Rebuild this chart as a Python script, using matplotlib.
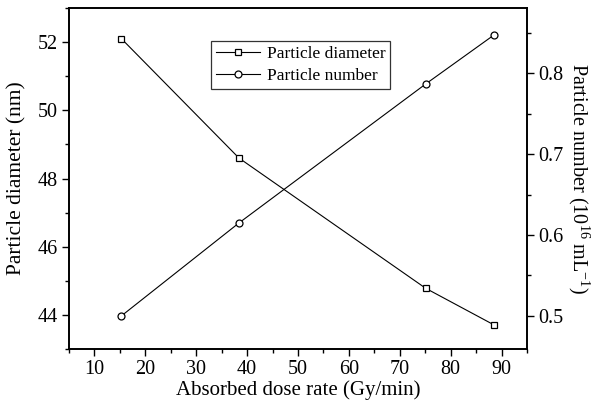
import numpy as np
import matplotlib.pyplot as plt
from matplotlib.ticker import MultipleLocator

plt.rcParams['font.family'] = ['Liberation Serif', 'DejaVu Serif']
plt.rcParams['mathtext.fontset'] = 'custom'
plt.rcParams['mathtext.rm'] = 'Liberation Serif'
plt.rcParams['mathtext.it'] = 'Liberation Serif:italic'

# data
dose_rate = [15.3, 38.4, 75.1, 88.6]
diameter = [52.1, 48.6, 44.78, 43.7]
number = [0.500, 0.615, 0.787, 0.848]

fig = plt.figure(figsize=(5.99, 4.04), dpi=100)
ax = fig.add_axes([0.1152, 0.1361, 0.7646, 0.8441])
ax2 = ax.twinx()

l1, = ax.plot(dose_rate, diameter, color='black', lw=0.8, marker='s', ms=4.5,
              mfc='white', mec='black', mew=0.9, label='Particle diameter')
l2, = ax2.plot(dose_rate, number, color='black', lw=0.8, marker='o', ms=5,
               mfc='white', mec='black', mew=0.9, label='Particle number')

ax.set_xlim(5, 95)
ax.set_ylim(43, 53)
ax2.set_ylim(0.459, 0.881)

ax.xaxis.set_major_locator(MultipleLocator(10))
ax.xaxis.set_minor_locator(MultipleLocator(5))
ax.yaxis.set_major_locator(MultipleLocator(2))
ax.yaxis.set_minor_locator(MultipleLocator(1))
ax2.yaxis.set_major_locator(MultipleLocator(0.1))
ax2.yaxis.set_minor_locator(MultipleLocator(0.05))

for a in (ax, ax2):
    a.tick_params(which='major', direction='out', length=5, width=1, labelsize=14.5, pad=3)
    a.tick_params(which='minor', direction='out', length=3, width=1)
    for s in a.spines.values():
        s.set_linewidth(1.2)
ax.tick_params(axis='y', which='both', right=False)

ax.set_xlabel('Absorbed dose rate (Gy/min)', fontsize=15, labelpad=1)
ax.set_ylabel('Particle diameter (nm)', fontsize=15.5, labelpad=8)
ax2.set_ylabel(r'Particle number (10$^{16}$ mL$^{-1}$)', fontsize=14.5,
               rotation=270, labelpad=20)

leg = ax.legend(handles=[l1, l2], loc='upper left', bbox_to_anchor=(0.31, 0.903),
                fontsize=12.5, frameon=True, fancybox=False, edgecolor='black',
                handlelength=2.5, handletextpad=0.4, borderpad=0.3,
                labelspacing=0.3, borderaxespad=0)
leg.get_frame().set_linewidth(0.9)

fig.savefig('out.png', dpi=100)
